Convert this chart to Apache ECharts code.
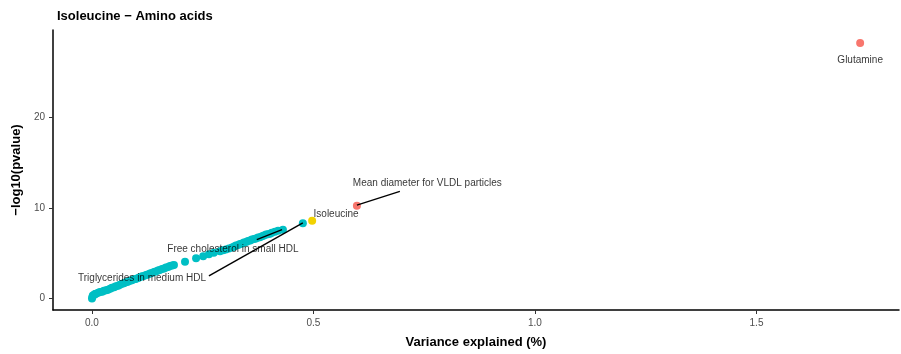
<!DOCTYPE html>
<html><head><meta charset="utf-8">
<script src="https://cdn.jsdelivr.net/npm/echarts@6/dist/echarts.min.js"></script>
<style>html,body{margin:0;padding:0;background:#fff}#c{width:901px;height:354px}</style>
</head><body><div id="c"></div>
<script>
// Data (variance explained %, -log10 p)
const otherPoints = [
[0.000,0.00],[0.001,0.20],[0.002,0.33],[0.005,0.43],[0.007,0.49],[0.009,0.54],[0.014,0.65],[0.018,0.71],
[0.023,0.76],[0.027,0.87],[0.032,0.92],[0.036,0.98],[0.041,1.09],[0.045,1.20],[0.050,1.25],[0.054,1.36],
[0.059,1.41],[0.063,1.52],[0.068,1.63],[0.072,1.68],[0.077,1.79],[0.081,1.85],[0.086,1.96],[0.090,2.01],
[0.095,2.12],[0.099,2.17],[0.104,2.28],[0.108,2.34],[0.113,2.45],[0.117,2.50],[0.122,2.61],[0.126,2.66],
[0.131,2.77],[0.135,2.83],[0.140,2.93],[0.144,2.99],[0.149,3.10],[0.153,3.15],[0.158,3.26],[0.163,3.32],
[0.167,3.42],[0.172,3.48],[0.176,3.59],[0.181,3.64],[0.185,3.70],
[0.210,4.08],[0.235,4.46],[0.251,4.67],[0.264,4.89],[0.275,5.05],
[0.289,5.22],[0.296,5.33],[0.302,5.43],[0.309,5.54],[0.316,5.65],[0.321,5.76],[0.325,5.87],[0.330,5.92],
[0.334,6.03],[0.339,6.09],[0.343,6.20],[0.348,6.25],[0.352,6.36],[0.357,6.41],[0.361,6.52],[0.366,6.58],
[0.370,6.63],[0.375,6.74],[0.379,6.79],[0.384,6.90],[0.388,6.96],[0.393,7.07],[0.397,7.12],[0.402,7.17],
[0.406,7.28],[0.413,7.39],[0.420,7.50],[0.431,7.61],
[0.476,8.32]
];
const focusPoint = [[0.497,8.59]];            // Isoleucine
const topPoints = [[0.598,10.27],[1.734,28.26]]; // Mean diameter VLDL, Glutamine
const xTicks = [0,0.5,1.0,1.5];
const yTicks = [0,10,20];
const labelNames = ["Glutamine","Mean diameter for VLDL particles","Isoleucine","Free cholesterol in small HDL","Triglycerides in medium HDL"];
const labelPos = [[1.734,26.40],[0.757,12.70],[0.551,9.30],[0.318,5.50],[0.113,2.24]];
const leaders = [
  [[0.598,10.33],[0.695,11.85]],
  [[0.429,7.61],[0.372,6.52]],
  [[0.476,8.37],[0.264,2.50]]
];

const FONT = "'Liberation Sans', Arial, sans-serif";
const chart = echarts.init(document.getElementById('c'), null, {renderer:'canvas'});
const series = [
  {type:'scatter', data: otherPoints, symbolSize: 8, itemStyle:{color:'#00BFC4', opacity:1}, silent:true, z:2},
  {type:'scatter', data: focusPoint, symbolSize: 8, itemStyle:{color:'#F2D200', opacity:1}, silent:true, z:3},
  {type:'scatter', data: topPoints, symbolSize: 8, itemStyle:{color:'#F8766D', opacity:1}, silent:true, z:3},
  {type:'scatter', data: labelPos.map((p,i)=>({value:p, name:labelNames[i]})), symbolSize: 0, silent:true, z:5,
   label:{show:true, position:'inside', formatter:'{b}', color:'#000', fontSize:10, fontFamily:FONT}}
];
leaders.forEach(seg=>series.push({type:'line', data: seg, symbol:'none', silent:true, z:4,
  lineStyle:{color:'#000', width:1.4}}));

chart.setOption({
  animation:false,
  title:{text:'Isoleucine \u2212 Amino acids', left:52, top:5,
    textStyle:{fontFamily:FONT, fontSize:13, fontWeight:'bold', color:'#000'}},
  grid:{left:53, right:2, top:30, bottom:39, containLabel:false},
  xAxis:{type:'value', min:-0.088, max:1.8217,
    name:'Variance explained (%)', nameLocation:'middle', nameGap:26,
    nameTextStyle:{fontFamily:FONT, fontSize:13, fontWeight:'bold', color:'#000'},
    axisLine:{show:true, onZero:false, lineStyle:{color:'#000', width:1.5}},
    axisTick:{show:true, length:4, customValues:xTicks, lineStyle:{color:'#333', width:1}},
    axisLabel:{customValues:xTicks, formatter:v=>v.toFixed(1), color:'#4D4D4D', fontSize:10, fontFamily:FONT, margin:8},
    splitLine:{show:false}},
  yAxis:{type:'value', min:-1.27, max:29.7,
    name:'\u2212log10(pvalue)', nameLocation:'middle', nameGap:21,
    nameTextStyle:{fontFamily:FONT, fontSize:13, fontWeight:'bold', color:'#000'},
    axisLine:{show:true, onZero:false, lineStyle:{color:'#000', width:1.5}},
    axisTick:{show:true, length:4, customValues:yTicks, lineStyle:{color:'#333', width:1}},
    axisLabel:{customValues:yTicks, color:'#4D4D4D', fontSize:10, fontFamily:FONT, margin:8},
    splitLine:{show:false}},
  series: series
});
</script></body></html>
